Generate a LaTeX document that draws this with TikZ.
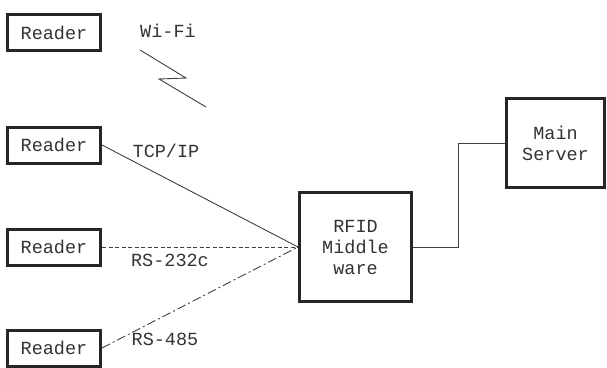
\documentclass[tikz,border=0pt]{standalone}
\usepackage{fontspec}
\setmonofont{Liberation Mono}
\usetikzlibrary{positioning}

\begin{document}
\begin{tikzpicture}[x=1pt, y=-1pt,
  reader/.style={rectangle, draw=black!85, line width=3pt, minimum width=93pt, minimum height=36pt, font=\ttfamily\fontsize{18.5}{20}\selectfont, text=black!80},
  unit/.style={rectangle, draw=black!85, line width=3pt, align=center, font=\ttfamily\fontsize{18.5}{21}\selectfont, text=black!80},
  lbl/.style={font=\ttfamily\fontsize{18.5}{20}\selectfont, text=black!80},
  link/.style={draw=black!75, line width=0.9pt}]

\useasboundingbox (0,0) rectangle (607,367);

\node[reader] (r1) at (54,32.5) {Reader};
\node[reader] (r2) at (54,145) {Reader};
\node[reader] (r3) at (54,247) {Reader};
\node[reader] (r4) at (54,348) {Reader};

\node[unit, minimum width=112pt, minimum height=109pt] (mw) at (355.5,247) {RFID\\Middle\\ware};
\node[unit, minimum width=98pt, minimum height=89pt] (srv) at (555.5,143) {Main\\Server};

\node[lbl] (wifi) at (168,31) {Wi-Fi};
\node[lbl] (tcp) at (166,151) {TCP/IP};
\node[lbl] (rs232) at (170,260) {RS-232c};
\node[lbl] (rs485) at (165,339) {RS-485};

% wireless sign
\draw[link] (140,50) -- (186,78) -- (159,79) -- (206,107);

\draw[link] (r2.east) -- (mw.west);
\draw[link, dash pattern=on 4pt off 2.5pt] (r3.east) -- (mw.west);
\draw[link, dash pattern=on 9pt off 3pt on 2pt off 3pt] (r4.east) -- (mw.west);
\draw[link] (mw.east) -- (458,247) |- (srv.west);

\end{tikzpicture}
\end{document}
